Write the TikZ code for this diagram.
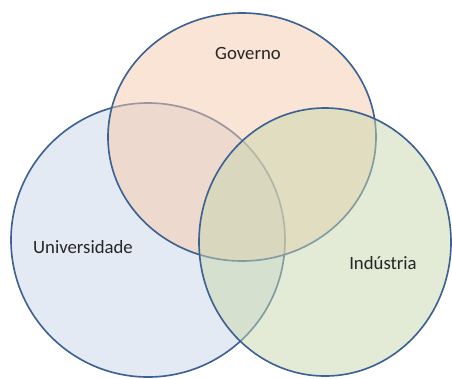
\documentclass[tikz,border=0pt]{standalone}
\usepackage{fontspec}
\setmainfont{Carlito}
\definecolor{rim}{RGB}{60,98,148}
\definecolor{uni}{RGB}{228,234,243}
\definecolor{gov}{RGB}{246,202,171}
\definecolor{ind}{RGB}{199,215,173}
\begin{document}
\begin{tikzpicture}[x=0.03cm,y=-0.03cm,line join = round,
	set/.style={draw=rim,line width=1.4pt},
	lbl/.style={font=\fontsize{16}{18}\selectfont,text=black!85}]
	\useasboundingbox (0,0) rectangle (452,378);
	\path
	(148,240) coordinate(U)
	(242,137) coordinate(G)
	(325,242) coordinate(I)
	;
	% the three sets, each laid over the previous one
	\draw[set,fill=uni] (U) ellipse [x radius=137, y radius=137];
	\draw[set,fill=gov,fill opacity=0.5] (G) ellipse [x radius=134, y radius=124];
	\draw[set,fill=ind,fill opacity=0.5] (I) ellipse [x radius=126, y radius=134];
	\node[lbl] (gLbl) at (248,53) {Governo};
	\node[lbl] (uLbl) at (83,247) {Universidade};
	\node[lbl] (iLbl) at (383,263) {Indústria};
\end{tikzpicture}
\end{document}
